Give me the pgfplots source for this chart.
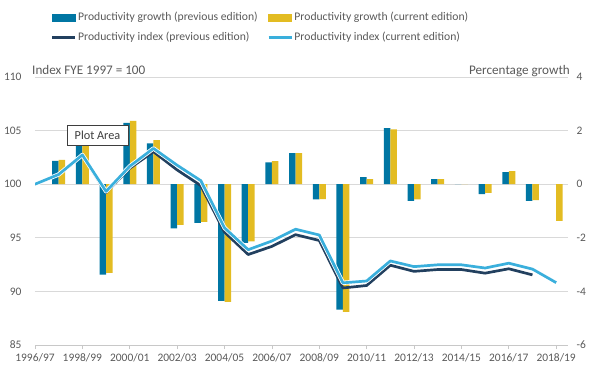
\documentclass[border=0pt]{standalone}
\usepackage{pgfplots}
\pgfplotsset{compat=1.18}
\usepackage{pgfplotstable}
\usepackage{fontspec}
\setmainfont{Carlito}
\definecolor{gblue}{HTML}{0076A3}
\definecolor{gyellow}{HTML}{E3BC22}
\definecolor{inavy}{HTML}{22405F}
\definecolor{ilight}{HTML}{3AAFDC}
\definecolor{txt}{HTML}{595959}
\definecolor{gridc}{HTML}{D9D9D9}
\definecolor{axc}{HTML}{C8C8C8}
\newcommand\fs{\fontsize{11.7}{14}\selectfont}
\newcommand\ft{\fontsize{11.5}{14}\selectfont}
\newcommand\fti{\fontsize{13.2}{15.5}\selectfont}
\newcommand\fp{\fontsize{12.3}{14.5}\selectfont}

\pgfplotstableread{
i gprev gcurr iprev icurr
0 nan nan 100 100
1 0.87 0.91 100.87 100.91
2 1.80 1.80 102.68 102.73
3 -3.37 -3.31 99.22 99.33
4 2.29 2.36 101.49 101.67
5 1.52 1.64 103.03 103.34
6 -1.65 -1.52 101.33 101.77
7 -1.44 -1.41 99.87 100.33
8 -4.35 -4.39 95.53 95.93
9 -2.19 -2.13 93.44 93.89
10 0.81 0.86 94.20 94.70
11 1.16 1.16 95.29 95.80
12 -0.57 -0.56 94.75 95.26
13 -4.68 -4.76 90.32 90.80
14 0.26 0.19 90.55 90.97
15 2.09 2.05 92.44 92.84
16 -0.62 -0.57 91.87 92.31
17 0.19 0.19 92.04 92.48
18 0.00 0.00 92.04 92.48
19 -0.37 -0.32 91.70 92.18
20 0.45 0.49 92.11 92.63
21 -0.62 -0.59 91.54 92.08
22 nan -1.37 nan 90.82
}\data

\pgfplotsset{base/.style={scale only axis, width=533bp, height=268bp,
  xmin=0, xmax=22.5, at={(0,0)}, anchor=south west,
  every tick label/.append style={font=\ft, text=txt},
  /pgf/number format/assume math mode=true}}

\begin{document}
\begin{tikzpicture}[font=\fs]
\useasboundingbox (-35bp,-24bp) rectangle (564bp,345bp);
% bars, right axis
\begin{axis}[base, ymin=-6, ymax=4, ytick={-6,-4,...,4},
  hide x axis, axis y line*=right, y axis line style={draw=none},
  ytick style={draw=none}, major tick length=0pt,
  yticklabel style={xshift=5bp},
  ymajorgrids, grid style={gridc, line width=0.75bp}]
\addplot[ybar, bar width=6.5bp, bar shift=-3.25bp, fill=gblue, draw=none] table[x=i,y=gprev]{\data};
\addplot[ybar, bar width=6.5bp, bar shift=3.25bp, fill=gyellow, draw=none] table[x=i,y=gcurr]{\data};
\end{axis}
% lines, left axis
\begin{axis}[base, ymin=85, ymax=110, ytick={85,90,...,110},
  axis y line*=left, y axis line style={draw=none}, ytick style={draw=none},
  yticklabel style={xshift=-6bp},
  axis x line*=bottom, x axis line style={-, draw=axc, line width=0.75bp},
  xtick={0,2,...,22},
  xticklabels={1996/97,1998/99,2000/01,2002/03,2004/05,2006/07,2008/09,2010/11,2012/13,2014/15,2016/17,2018/19},
  xticklabel style={yshift=-1.5bp},
  xtick style={draw=axc, line width=0.75bp}, tick align=outside, major tick length=4bp,
  legend columns=2, legend cell align=left,
  legend style={draw=none, fill=none, inner sep=0pt, outer sep=0pt,
    at={(axis description cs:0.03,1.247)}, anchor=north west,
    font=\fs, text=txt, row sep=7bp,
    nodes={inner sep=1.5bp},
    /tikz/every even column/.append style={column sep=8bp}}]
\addlegendimage{legend image code/.code={\fill[gblue] (0bp,-3.5bp) rectangle (23bp,3.5bp);}}
\addlegendentry{Productivity growth (previous edition)}
\addlegendimage{legend image code/.code={\fill[gyellow] (0bp,-3.5bp) rectangle (23bp,3.5bp);}}
\addlegendentry{Productivity growth (current edition)}
\addplot[inavy, line width=2.7bp, line join=round,
  legend image code/.code={\draw[inavy, line width=2.7bp] (0bp,0bp) -- (23bp,0bp);}]
  table[x=i,y=iprev]{\data};
\addlegendentry{Productivity index (previous edition)}
\addplot[white, line width=4.3bp, line join=round, forget plot] table[x=i,y=icurr]{\data};
\addplot[ilight, line width=2.7bp, line join=round,
  legend image code/.code={\draw[ilight, line width=2.7bp] (0bp,0bp) -- (23bp,0bp);}]
  table[x=i,y=icurr]{\data};
\addlegendentry{Productivity index (current edition)}
\end{axis}
\node[anchor=west, inner sep=0pt, text=txt, font=\fti] at (-3bp,275.5bp) {Index FYE 1997 = 100};
\node[anchor=east, inner sep=0pt, text=txt, font=\fti] at (535bp,274bp) {Percentage growth};
\node[draw=txt!70!black, fill=white, line width=0.75bp, minimum width=61bp,
  minimum height=20bp, inner sep=0pt, text=txt!70!black, font=\fp] at (62.5bp,210bp) {Plot Area};
\end{tikzpicture}
\end{document}
